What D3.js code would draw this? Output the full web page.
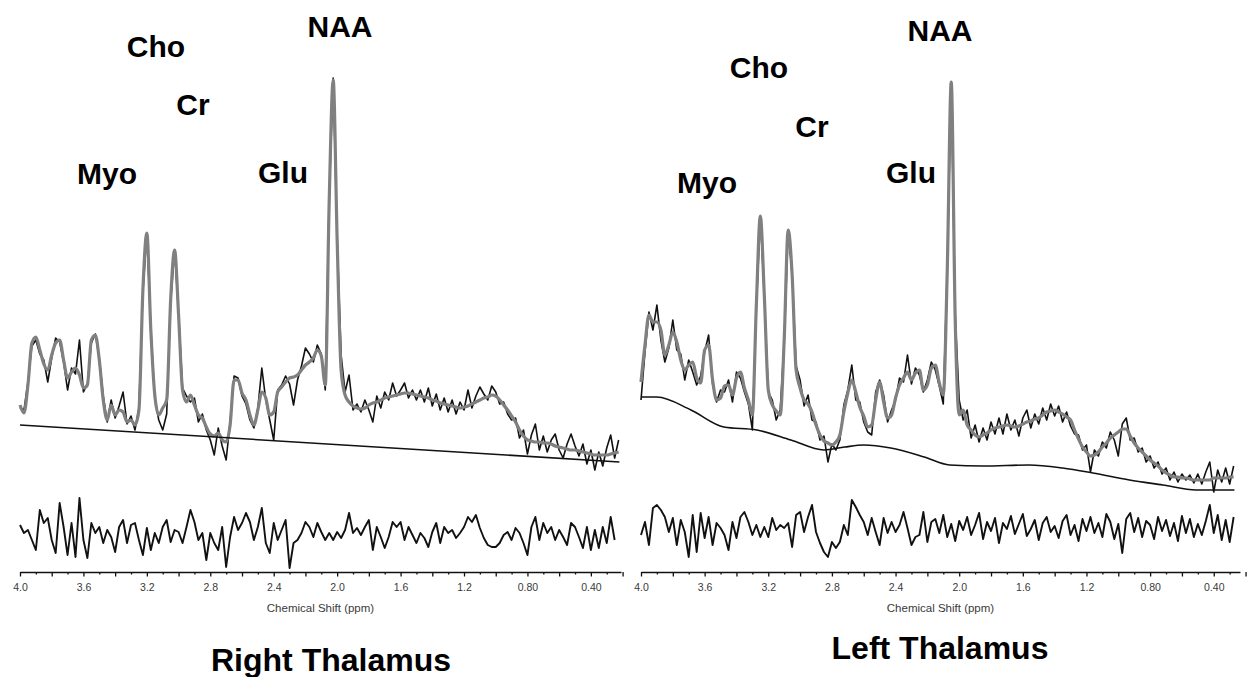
<!DOCTYPE html>
<html>
<head>
<meta charset="utf-8">
<script src="https://cdn.jsdelivr.net/npm/d3@7"></script>
<style>
  body { margin: 0; background: #fff; }
  svg { display: block; font-family: "Liberation Sans", Arial, sans-serif; }
</style>
</head>
<body>
<div id="chart"></div>
<script>
// ppm grid of the sampled spectra (4.0 ppm downwards, 0.025 ppm per point)
const ppmStart = 4.0;
const ppmStep = 0.025;

const tickValues = [4.0, 3.6, 3.2, 2.8, 2.4, 2.0, 1.6, 1.2, 0.8, 0.4];
const tickLabels = ["4.0", "3.6", "3.2", "2.8", "2.4", "2.0", "1.6", "1.2", "0.80", "0.40"];
const peakNames = ["NAA", "Cho", "Cr", "Myo", "Glu"];

// ---- Right thalamus (left panel) ----
const rtFit = [
  75, 67, 95, 137, 143, 130, 116, 110, 125, 137,
  140, 120, 102, 108, 112, 105, 92, 95, 140, 145,
  120, 80, 60, 75, 65, 70, 68, 58, 60, 55,
  70, 190, 247, 150, 85, 65, 72, 80, 180, 230,
  165, 90, 78, 85, 75, 65, 62, 53, 46, 44,
  47, 40, 38, 55, 100, 100, 87, 80, 65, 55,
  70, 88, 82, 65, 68, 88, 93, 98, 102, 103,
  105, 110, 115, 118, 122, 130, 124, 95, 280, 400,
  240, 110, 85, 78, 74, 72, 71, 72, 75, 77,
  78, 80, 82, 83, 84, 85, 86, 87, 87, 86,
  85, 84, 83, 82, 80, 79, 77, 76, 75, 74,
  73, 72, 73, 74, 76, 78, 80, 82, 83, 85,
  84, 80, 75, 70, 64, 58, 50, 44, 40, 39,
  38, 38, 37, 37, 36, 34, 33, 32, 31, 30,
  30, 29, 28, 27, 26, 25, 25, 25, 25, 26,
  27, 28
];
const rtRaw = [
  72, 70, 98, 134, 140, 126, 120, 98, 122, 142,
  138, 118, 90, 112, 106, 140, 88, 96, 137, 146,
  122, 84, 58, 80, 62, 74, 88, 56, 64, 50,
  72, 188, 247, 152, 82, 60, 50, 66, 178, 230,
  167, 92, 84, 78, 82, 58, 66, 50, 40, 25,
  52, 34, 20, 58, 104, 102, 84, 76, 60, 52,
  72, 112, 80, 60, 40, 90, 95, 104, 96, 75,
  100, 114, 132, 126, 118, 135, 126, 90, 282, 402,
  242, 125, 88, 105, 70, 76, 68, 80, 70, 58,
  84, 72, 88, 80, 97, 84, 90, 97, 82, 90,
  80, 90, 78, 92, 74, 86, 70, 82, 68, 80,
  66, 78, 70, 90, 72, 84, 93, 86, 80, 94,
  88, 76, 78, 66, 60, 62, 42, 50, 26, 45,
  56, 30, 44, 28, 40, 46, 30, 22, 36, 46,
  34, 24, 36, 16, 30, 10, 28, 14, 32, 45,
  22, 40
];
const rtResid = [
  8, 0, 3, -7, -17, 23, 10, 15, -7, -20,
  30, 6, -22, 10, -24, 35, -7, -25, 10, 0,
  6, -10, 3, -4, -19, 6, 13, -10, 8, 10,
  -7, -22, 5, -17, 0, -10, 6, 13, -9, 3,
  1, -10, 6, 23, 11, -7, 0, -27, 0, -10,
  -17, 6, -34, -4, 16, 3, 10, 20, 11, -7,
  6, 25, -10, -20, 10, -7, 3, 13, -35, -10,
  -7, 0, 11, 6, -4, 10, 1, -7, 0, -7,
  1, -5, 3, 20, 0, 5, -2, 6, 13, -17,
  6, -4, -15, -4, 11, 6, 11, -7, 6, -2,
  -10, 0, -5, -14, 1, 10, -10, 6, 0, 3,
  -5, 0, 6, 16, 11, 18, 5, -5, -12, -14,
  -14, -10, -2, 1, -7, 5, 0, -10, -22, 6,
  16, -7, 10, 0, 6, -7, 3, -4, -12, 10,
  6, -4, -15, 6, -17, 3, -15, 6, -10, 16,
  -7
];
const rtBasePpm = [4.0, 0.22];
const rtBaseVal = [55, 18];

// ---- Left thalamus (right panel) ----
const ltFit = [
  98, 135, 165, 158, 158, 150, 125, 135, 148, 138,
  120, 110, 115, 118, 102, 97, 130, 135, 100, 80,
  82, 94, 95, 85, 102, 108, 92, 80, 65, 175,
  264, 185, 90, 75, 69, 65, 140, 250, 205, 110,
  92, 80, 76, 68, 55, 45, 39, 37, 35, 38,
  45, 68, 87, 100, 88, 73, 64, 53, 55, 80,
  98, 78, 62, 65, 82, 95, 102, 108, 100, 107,
  110, 90, 95, 112, 115, 97, 85, 210, 398, 160,
  65, 70, 55, 50, 45, 43, 45, 47, 50, 52,
  53, 54, 55, 54, 53, 54, 56, 58, 59, 61,
  62, 65, 68, 69, 70, 68, 66, 63, 60, 50,
  41, 33, 28, 24, 25, 28, 33, 37, 42, 45,
  48, 51, 51, 44, 37, 32, 28, 24, 20, 17,
  14, 10, 7, 5, 3, 3, 2, 2, 1, 0,
  0, 0, 0, 0, 2, 2, 2, 2, 3, 3
];
const ltRaw = [
  80, 128, 168, 150, 175, 140, 118, 132, 160, 130,
  126, 100, 120, 108, 95, 104, 128, 145, 96, 78,
  90, 88, 100, 78, 108, 102, 88, 76, 50, 172,
  264, 185, 88, 80, 60, 70, 138, 250, 205, 114,
  100, 74, 85, 60, 58, 40, 44, 18, 36, 30,
  40, 75, 90, 115, 80, 78, 58, 48, 45, 88,
  100, 85, 58, 70, 80, 102, 98, 125, 96, 112,
  105, 88, 100, 118, 110, 94, 76, 212, 398, 165,
  80, 60, 70, 42, 55, 38, 52, 40, 58, 46,
  62, 46, 66, 50, 60, 44, 62, 70, 52, 66,
  56, 72, 60, 76, 64, 74, 58, 68, 54, 46,
  45, 30, 35, 8, 30, 24, 38, 32, 48, 40,
  24, 56, 62, 40, 42, 28, 32, 18, 24, 12,
  18, 6, 12, 0, 8, -2, 6, 0, 5, -3,
  6, -4, 8, 18, -12, 10, -2, 12, -4, 14
];
const ltResid = [
  -8, 5, -18, 19, 22, 17, 10, -5, 9, -18,
  7, -5, -30, 12, -25, 14, -11, 10, -18, 4,
  -1, -8, -23, 5, -11, 10, 15, 5, -8, 2,
  -10, 0, -10, 9, -3, 2, -1, 4, -20, 12,
  15, -5, 10, 22, -5, -16, -25, -30, -15, -21,
  -15, 2, -8, 27, 20, 12, 5, -8, 9, -5,
  -18, 9, -6, 5, -5, 2, 15, -1, -18, -10,
  -8, 15, -15, 5, 8, -6, 12, -10, 3, -14,
  6, -3, 10, -8, 2, 14, -12, 5, -4, 9,
  -16, 4, -2, 11, -7, 3, 13, -9, -2, 7,
  -13, 4, 10, -5, 1, -11, 6, 12, -8, 2,
  -14, 8, -4, 10, -6, 4, -10, 13, 5, -12,
  3, -26, 8, 14, -5, 9, -10, 6, 2, -12,
  10, -4, 7, -9, 4, -14, 11, -6, 8, -10,
  3, -8, 6, 22, -6, 12, -13, 7, -15, 10
];
const ltBasePpm = [4.0, 3.9, 3.686, 3.479, 3.271, 3.058, 2.85, 2.72, 2.6, 2.43, 2.22, 2.06, 1.85, 1.56, 1.35, 1.16, 0.93, 0.72, 0.51, 0.27];
const ltBaseVal = [83, 83, 70, 53, 50, 40, 30, 33, 35, 32, 23, 15, 14, 15, 12, 7, 0, -5, -10, -10];

const W = 1248, H = 677;
const svg = d3.select("#chart").append("svg")
  .attr("width", W)
  .attr("height", H);

// intensity scale shared by both spectra
const y = d3.scaleLinear().domain([0, 420]).range([480, 60]);
const axisY = 572;

const panels = [
  {
    title: "Right Thalamus", fit: rtFit, raw: rtRaw, resid: rtResid,
    basePpm: rtBasePpm, baseVal: rtBaseVal,
    domain: [4.0, 0.21], range: [20, 621], residY: 533,
    titlePos: [331, 671],
    labelPos: { NAA: [340, 37], Cho: [156, 57], Cr: [193, 115], Myo: [107, 184], Glu: [283, 183] }
  },
  {
    title: "Left Thalamus", fit: ltFit, raw: ltRaw, resid: ltResid,
    basePpm: ltBasePpm, baseVal: ltBaseVal,
    domain: [4.0, 0.235], range: [641, 1240], residY: 527,
    titlePos: [940, 659],
    labelPos: { NAA: [940, 41], Cho: [759, 78], Cr: [812, 137], Myo: [707, 193], Glu: [911, 183] }
  }
];

panels.forEach(p => {
  const x = d3.scaleLinear().domain(p.domain).range(p.range);
  const yRes = d3.scaleLinear().domain([-40, 40]).range([p.residY + 40, p.residY - 40]);
  const g = svg.append("g");

  const ppmAt = i => ppmStart - i * ppmStep;

  // raw spectrum
  g.append("path")
    .datum(p.raw)
    .attr("fill", "none")
    .attr("stroke", "#111")
    .attr("stroke-width", 1.6)
    .attr("stroke-linejoin", "round")
    .attr("d", d3.line().x((d, i) => x(ppmAt(i))).y(d => y(d)));

  // fitted spectrum
  g.append("path")
    .datum(p.fit)
    .attr("fill", "none")
    .attr("stroke", "#808080")
    .attr("stroke-width", 3.2)
    .attr("stroke-linejoin", "round")
    .attr("d", d3.line().x((d, i) => x(ppmAt(i))).y(d => y(d)).curve(d3.curveMonotoneX));

  // baseline
  g.append("path")
    .datum(p.baseVal)
    .attr("fill", "none")
    .attr("stroke", "#111")
    .attr("stroke-width", 1.6)
    .attr("d", d3.line().x((d, i) => x(p.basePpm[i])).y(d => y(d)).curve(d3.curveMonotoneX));

  // residual
  g.append("path")
    .datum(p.resid)
    .attr("fill", "none")
    .attr("stroke", "#111")
    .attr("stroke-width", 1.9)
    .attr("stroke-linejoin", "round")
    .attr("d", d3.line().x((d, i) => x(ppmAt(i))).y(d => yRes(d)));

  // ppm axis: ticks every 0.1, longer every 0.2, labels every 0.4
  const allTicks = d3.range(40, 1, -1).map(k => k / 10);
  const axisG = g.append("g")
    .attr("transform", `translate(0,${axisY})`)
    .call(d3.axisBottom(x)
      .tickValues(allTicks)
      .tickSize(4)
      .tickSizeOuter(0)
      .tickPadding(8)
      .tickFormat(d => {
        const k = tickValues.findIndex(t => Math.abs(t - d) < 1e-6);
        return k >= 0 ? tickLabels[k] : "";
      }));
  axisG.select(".domain").attr("stroke", "#111").attr("stroke-width", 1.5);
  axisG.selectAll(".tick line")
    .attr("stroke", "#111")
    .attr("stroke-width", 1.3)
    .attr("y2", d => (Math.round(d * 10) % 2 === 0 ? 4.5 : 2.5));
  axisG.selectAll(".tick text")
    .attr("font-family", "'Liberation Sans', Arial, sans-serif")
    .attr("font-size", 10.5)
    .attr("fill", "#3a3a3a");

  g.append("text")
    .attr("x", (p.range[0] + p.range[1]) / 2)
    .attr("y", 612)
    .attr("text-anchor", "middle")
    .attr("font-size", 11.5)
    .attr("fill", "#3a3a3a")
    .text("Chemical Shift (ppm)");

  // metabolite labels
  peakNames.forEach(name => {
    const pos = p.labelPos[name];
    g.append("text")
      .attr("x", pos[0])
      .attr("y", pos[1])
      .attr("text-anchor", "middle")
      .attr("font-size", 30)
      .attr("font-weight", "bold")
      .attr("fill", "#000")
      .text(name);
  });

  g.append("text")
    .attr("x", p.titlePos[0])
    .attr("y", p.titlePos[1])
    .attr("text-anchor", "middle")
    .attr("font-size", 32)
    .attr("font-weight", "bold")
    .attr("fill", "#000")
    .text(p.title);
});
</script>
</body>
</html>
